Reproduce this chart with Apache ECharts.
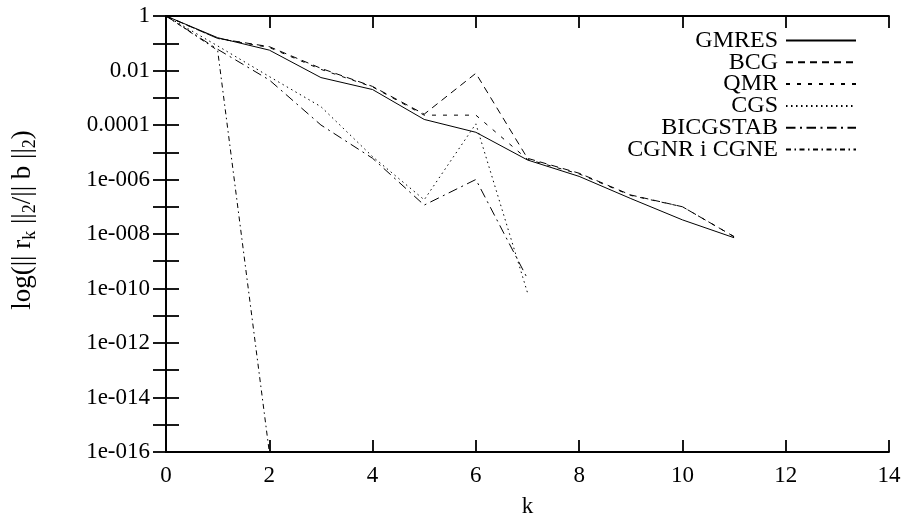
<!DOCTYPE html>
<html>
<head>
<meta charset="utf-8">
<script src="https://cdn.jsdelivr.net/npm/echarts@6/dist/echarts.min.js"></script>
<style>
html,body{margin:0;padding:0;background:#fff;}
#c{width:905px;height:518px;}
</style>
</head>
<body>
<div id="c"></div>
<script>
// ---- data ----
var kValues = [0, 1, 2, 3, 4, 5, 6, 7, 8, 9, 10, 11];
var seriesNames = ['GMRES', 'BCG', 'QMR', 'CGS', 'BICGSTAB', 'CGNR i CGNE'];
var gmres    = [1, 0.16, 0.056, 0.0055, 0.002, 1.6e-4, 5.4e-5, 5.2e-6, 1.3e-6, 2e-7, 3.3e-8, 7.3e-9];
var bcg      = [1, 0.15, 0.075, 0.012, 0.0026, 2.5e-4, 0.0079, 6e-6, 1.7e-6, 2.7e-7, 1e-7, 8e-9];
var qmr      = [1, 0.15, 0.07, 0.011, 0.0025, 2.3e-4, 2.3e-4, 5.5e-6, 1.6e-6, 2.6e-7, 1e-7, 8e-9];
var cgs      = [1, 0.08, 0.006, 4.7e-4, 6.9e-6, 1.8e-7, 1.1e-4, 7e-11];
var bicgstab = [1, 0.06, 0.0045, 1e-4, 6e-6, 1.15e-7, 1e-6, 2.3e-10];
var cgnr     = [1, 0.055, 1e-16];
var xTicks = [0, 2, 4, 6, 8, 10, 12, 14];
var yTickLabels = {
  '0': '1', '-2': '0.01', '-4': '0.0001', '-6': '1e-006', '-8': '1e-008',
  '-10': '1e-010', '-12': '1e-012', '-14': '1e-014', '-16': '1e-016'
};

function pairs(vals) {
  return vals.map(function (v, i) { return [kValues[i], v]; });
}

var FONT = 'Liberation Serif';
var dashes = {
  'GMRES': 'solid',
  'BCG': [7, 5],
  'QMR': [4, 7],
  'CGS': [1.5, 3.5],
  'BICGSTAB': [9.5, 4.5, 2, 4.5],
  'CGNR i CGNE': [5, 3.5, 1.5, 3.5]
};
var allVals = [gmres, bcg, qmr, cgs, bicgstab, cgnr];

var series = seriesNames.map(function (name, i) {
  return {
    name: name,
    type: 'line',
    xAxisIndex: 0,
    yAxisIndex: 0,
    data: pairs(allVals[i]),
    symbol: 'none',
    showSymbol: false,
    clip: true,
    lineStyle: { color: '#000', width: 1, type: dashes[name] },
    itemStyle: { color: '#000' },
    emphasis: { disabled: true }
  };
});

var legends = seriesNames.map(function (name, i) {
  return {
    orient: 'vertical',
    right: 43,
    top: 23.5 + i * 21.8,
    align: 'right',
    itemWidth: 70,
    itemHeight: 12,
    selectedMode: false,
    data: [name],
    itemStyle: { opacity: 0, borderWidth: 0 },
    textStyle: { fontFamily: FONT, fontSize: 24, color: '#000', width: 200, align: 'right', padding: [0, 3, 0, 0] }
  };
});

var axisLineStyle = { color: '#000', width: 1.8 };

function yFmt(v) {
  var e = Math.round(Math.log(v) / Math.LN10);
  var s = yTickLabels[String(e)];
  return s === undefined ? '' : s;
}

var option = {
  backgroundColor: '#fff',
  animation: false,
  grid: { left: 166, right: 16, top: 16, bottom: 66, containLabel: false, outerBoundsMode: 'none' },
  legend: legends,
  xAxis: [{
    type: 'value',
    min: 0, max: 14, interval: 2,
    name: 'k',
    nameLocation: 'middle',
    nameGap: 43,
    nameTextStyle: { fontFamily: FONT, fontSize: 23, color: '#000' },
    axisLine: { show: true, lineStyle: axisLineStyle },
    axisTick: { show: true, inside: true, length: 12, lineStyle: axisLineStyle },
    axisLabel: { fontFamily: FONT, fontSize: 23, color: '#000', margin: 12,
      formatter: function (v) { return xTicks.indexOf(v) >= 0 ? String(v) : ''; } },
    splitLine: { show: false }
  }, {
    type: 'value',
    position: 'top',
    min: 0, max: 14, interval: 2,
    axisLine: { show: true, lineStyle: axisLineStyle },
    axisTick: { show: true, inside: true, length: 12, lineStyle: axisLineStyle },
    axisLabel: { show: false },
    splitLine: { show: false }
  }],
  yAxis: [{
    type: 'log',
    logBase: 10,
    min: 1e-16, max: 1, interval: 1,
    name: '{a|log(|| r}{s|k}{a| ||}{s|2}{a|/|| b ||}{s|2}{a|)}',
    nameLocation: 'middle',
    nameGap: 127,
    nameTextStyle: {
      fontFamily: FONT, color: '#000',
      padding: [0, 0, 0, 28],
      rich: {
        a: { fontFamily: FONT, fontSize: 27, lineHeight: 30, verticalAlign: 'top', color: '#000' },
        s: { fontFamily: FONT, fontSize: 18, lineHeight: 15, verticalAlign: 'bottom', color: '#000' }
      }
    },
    axisLine: { show: true, lineStyle: axisLineStyle },
    axisTick: { show: true, inside: true, length: 13, lineStyle: axisLineStyle },
    axisLabel: { fontFamily: FONT, fontSize: 23, color: '#000', margin: 16, formatter: yFmt },
    splitLine: { show: false },
    minorTick: { show: false }
  }, {
    type: 'log',
    logBase: 10,
    position: 'right',
    min: 1e-16, max: 1, interval: 1,
    axisLine: { show: true, lineStyle: axisLineStyle },
    axisTick: { show: true, inside: true, length: 13, lineStyle: axisLineStyle },
    axisLabel: { show: false },
    splitLine: { show: false }
  }],
  series: series
};

var chart = echarts.init(document.getElementById('c'), null, { renderer: 'canvas' });
chart.setOption(option);
</script>
</body>
</html>
